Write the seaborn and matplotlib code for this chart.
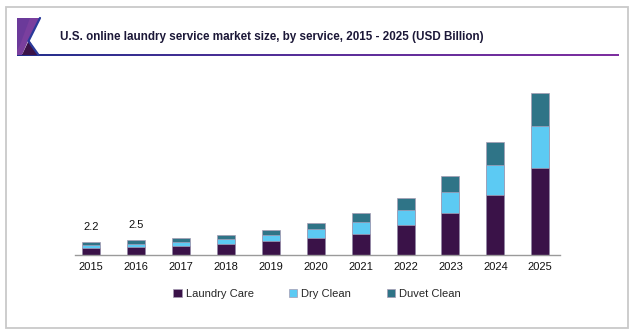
import matplotlib
matplotlib.use("Agg")
import matplotlib.pyplot as plt
import numpy as np
import seaborn as sns
from matplotlib.patches import Rectangle, Polygon, Patch

# Market size by service (USD Billion)
years = ["2015", "2016", "2017", "2018", "2019", "2020",
         "2021", "2022", "2023", "2024", "2025"]
laundry_care = [1.10, 1.30, 1.55, 1.77, 2.27, 2.83, 3.55, 5.05, 7.05, 10.00, 14.45]
dry_clean = [0.55, 0.60, 0.62, 0.90, 1.00, 1.43, 1.88, 2.50, 3.50, 4.95, 7.10]
duvet_clean = [0.55, 0.60, 0.72, 0.72, 0.95, 1.12, 1.55, 2.00, 2.67, 3.83, 5.50]
labeled_years = ["2015", "2016"]

series_names = ["Laundry Care", "Dry Clean", "Duvet Clean"]
colors = ["#3a1248", "#5ccaf3", "#2f7487"]

sns.set_theme(style="white")
plt.rcParams["font.family"] = ["Liberation Sans", "DejaVu Sans"]

W, H = 634, 335
fig = plt.figure(figsize=(W / 100, H / 100), dpi=100)

# Decorative frame, header icon and rule
deco = fig.add_axes([0, 0, 1, 1], zorder=0)
deco.set_xlim(0, W)
deco.set_ylim(H, 0)
deco.axis("off")
deco.add_patch(Rectangle((6, 7), 622, 321, fill=False, edgecolor="#c9c9c9", lw=1.3))

cmap = matplotlib.colors.LinearSegmentedColormap.from_list("rule", ["#23308c", "#5a2f9a", "#7e2fa0"])
grad = np.linspace(0, 1, 256).reshape(1, -1)
deco.imshow(grad, cmap=cmap, aspect="auto", extent=(17, 619, 56.5, 54.5),
            interpolation="bilinear", zorder=1)
deco.set_xlim(0, W)
deco.set_ylim(H, 0)

deco.add_patch(Polygon([(17, 18), (40, 18), (28, 41), (22, 55), (17, 55)],
                       closed=True, facecolor="#7a3f9e", edgecolor="none", zorder=2))
deco.add_patch(Polygon([(17, 18), (30, 18), (20, 45), (17, 50)],
                       closed=True, facecolor="#6b3a9a", edgecolor="none", zorder=2))
deco.add_patch(Polygon([(22, 55), (29, 40), (38, 55)],
                       closed=True, facecolor="#3a1248", edgecolor="none", zorder=2))
deco.plot([40, 28.5, 38.5], [18, 41, 55], color="#2a3a9a", lw=1.6,
          solid_joinstyle="miter", zorder=3)

fig.text(271.5 / W, 1 - 37 / H,
         "U.S. online laundry service market size, by service, 2015 - 2025 (USD Billion)",
         ha="center", va="center", fontsize=8.4, fontweight="bold", color="#1c1838")

# Chart area
ax = fig.add_axes([75 / W, 1 - 255 / H, (560 - 75) / W, (255 - 85) / H], zorder=1)
ax.patch.set_alpha(0)

lc_arr = np.array(laundry_care)
dc_arr = np.array(dry_clean)
du_arr = np.array(duvet_clean)
totals = lc_arr + dc_arr + du_arr
stack_levels = [totals, lc_arr + dc_arr, lc_arr]
stack_colors = [colors[2], colors[1], colors[0]]

for level, col in zip(stack_levels, stack_colors):
    sns.barplot(x=years, y=level, order=years, color=col, width=0.4,
                edgecolor="#a79bb3", linewidth=0.5, saturation=1, ax=ax)

for i, yr in enumerate(years):
    if yr in labeled_years:
        ax.annotate(f"{totals[i]:.1f}", xy=(i, totals[i]), xytext=(0, 11),
                    textcoords="offset points", ha="center", va="center",
                    fontsize=8, color="#111111")

ax.set_xlim(-0.36, 10.44)
ax.set_ylim(0, 28.3)
ax.set_yticks([])
ax.set_ylabel("")
ax.set_xlabel("")
for side in ["top", "right", "left"]:
    ax.spines[side].set_visible(False)
ax.spines["bottom"].set_color("#9a9a9a")
ax.spines["bottom"].set_linewidth(1.0)
ax.tick_params(axis="x", length=0, pad=5, labelsize=8, labelcolor="#111111")

handles = [Patch(facecolor=c, edgecolor="#a79bb3", linewidth=0.5) for c in colors]
fig.legend(handles, series_names, loc="center", bbox_to_anchor=(317 / W, 1 - 294 / H),
           ncol=3, frameon=False, fontsize=8, handlelength=0.75, handleheight=0.75,
           handletextpad=0.35, columnspacing=3.2)

fig.savefig("out.png", dpi=100)
